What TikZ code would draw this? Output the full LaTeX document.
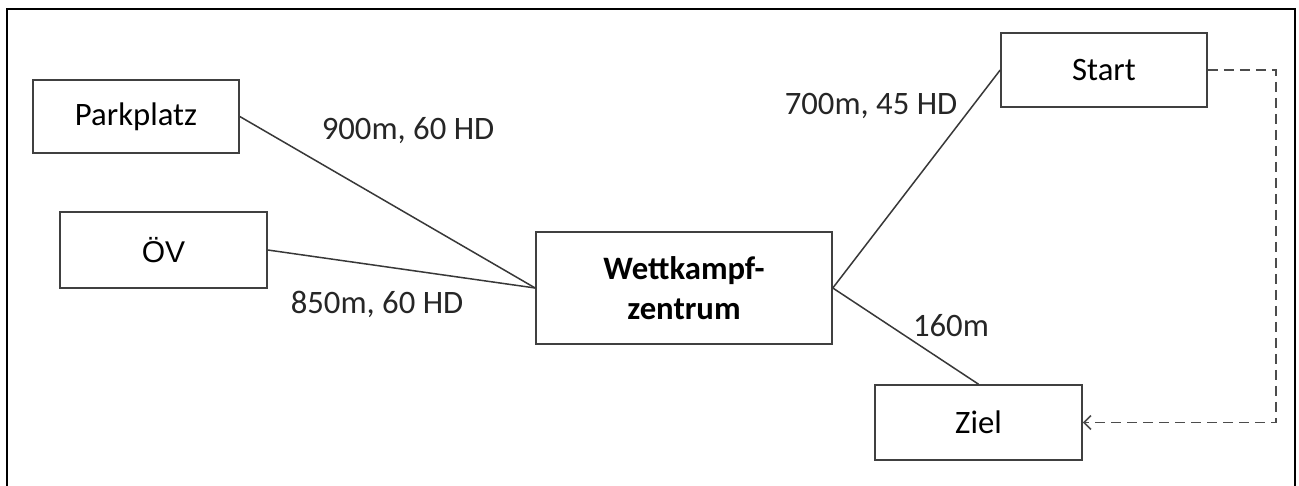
\documentclass[tikz,border=0pt]{standalone}
\usepackage{fontspec}
\setmainfont{Carlito}
\newfontfamily\arialfont{Liberation Sans}
\usetikzlibrary{arrows.meta}
\begin{document}
\begin{tikzpicture}[x=1pt,y=-1pt,
  box/.style={draw=black!75, line width=1.6pt, rectangle, inner sep=0pt, align=center,
    font=\fontsize{32.7}{40}\selectfont},
  conn/.style={draw=black!78, line width=1.5pt},
  lbl/.style={anchor=base, inner sep=0pt, font=\fontsize{32.7}{40}\selectfont, text=black!85},
  dashconn/.style={draw=black!70, line width=1.9pt, dash pattern=on 10pt off 6pt,
    -{Straight Barb[length=7pt,width=14pt,line width=1.6pt]}}]
\useasboundingbox (0,0) rectangle (1299,485);
\fill[white] (0,0) rectangle (1299,485);
\draw[line width=2.4pt, black] (7,490) -- (7,9) -- (1295,9) -- (1295,490);

\node[box, minimum width=206pt, minimum height=73pt] (park) at (136,116.5) {Parkplatz};
\node[box, minimum width=207pt, minimum height=76pt, font=\arialfont\fontsize{30}{36}\selectfont] (oev) at (163.5,250) {ÖV};
\node[box, minimum width=296pt, minimum height=112pt, font=\bfseries\fontsize{32.7}{40}\selectfont] (wk) at (684,288) {Wettkampf-\\zentrum};
\node[box, minimum width=206pt, minimum height=74pt] (start) at (1104,70) {Start};
\node[box, minimum width=207pt, minimum height=75pt] (ziel) at (978.5,422.5) {Ziel};

\draw[conn] (park.east) -- (wk.west);
\draw[conn] (oev.east) -- (wk.west);
\draw[conn] (wk.east) -- (start.west);
\draw[conn] (wk.east) -- (ziel.north);

\coordinate (turn) at (1276,70);
\draw[dashconn] (start.east) -- (turn) |- (ziel.east);

\node[lbl] (l1) at (408,139) {900m, 60 HD};
\node[lbl] (l2) at (377,313) {850m, 60 HD};
\node[lbl] (l3) at (871,114) {700m, 45 HD};
\node[lbl] (l4) at (951,336) {160m};
\end{tikzpicture}
\end{document}
